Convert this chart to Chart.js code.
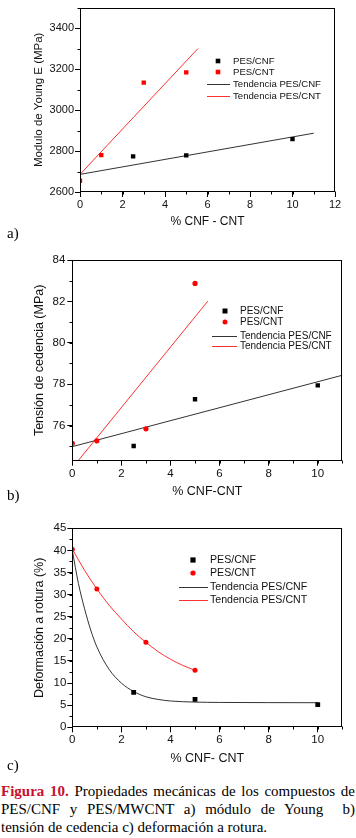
<!DOCTYPE html>
<html>
<head>
<meta charset="utf-8">
<script src="https://cdn.jsdelivr.net/npm/chart.js@4/dist/chart.umd.min.js"></script>
<style>
  html, body { margin: 0; padding: 0; background: #fff; }
  body { position: relative; width: 356px; height: 838px; overflow: hidden; }
  canvas { position: absolute; left: 0; }
  .tag { position: absolute; left: 7px; font: 15px/18px "Liberation Serif", "Times New Roman", serif; color: #000; }
  #cap { position: absolute; left: 1px; top: 782px; width: 354px; font: 15px/18.2px "Liberation Serif", "Times New Roman", serif; color: #000; }
  #cap .j { text-align: justify; text-align-last: justify; white-space: nowrap; }
  #cap .fig { color: #c8102e; font-weight: bold; }
</style>
</head>
<body>
<canvas id="chartA" width="356" height="240" style="top:0"></canvas>
<canvas id="chartB" width="356" height="255" style="top:250px"></canvas>
<canvas id="chartC" width="356" height="260" style="top:515px"></canvas>
<div class="tag" style="top:224px">a)</div>
<div class="tag" style="top:486px">b)</div>
<div class="tag" style="top:756px">c)</div>
<div id="cap">
  <div class="j"><span class="fig">Figura 10.</span> Propiedades mecánicas de los compuestos de</div>
  <div class="j">PES/CNF y PES/MWCNT a) módulo de Young&nbsp; b)</div>
  <div>tensión de cedencia c) deformación a rotura.</div>
</div>
<script>
const legendLabels = ['PES/CNF', 'PES/CNT', 'Tendencia PES/CNF', 'Tendencia PES/CNT'];

// a) módulo de Young (MPa)
const youngCnfX = [2.5, 5, 10];
const youngCnfY = [2774, 2779, 2858];
const youngCntX = [0, 1, 3, 5];
const youngCntY = [2655, 2780, 3134, 3184];
const youngTrendCnfX = [0, 11];
const youngTrendCnfY = [2686, 2887];
const youngTrendCntX = [0, 5.55];
const youngTrendCntY = [2686, 3300];

// b) tensión de cedencia (MPa)
const yieldCnfX = [2.5, 5, 10];
const yieldCnfY = [75.01, 77.27, 77.94];
const yieldCntX = [0, 1, 3, 5];
const yieldCntY = [75.14, 75.26, 75.84, 82.87];
const yieldTrendCnfX = [0, 11];
const yieldTrendCnfY = [74.98, 78.43];
const yieldTrendCntX = [0.24, 5.52];
const yieldTrendCntY = [74.3, 82.01];

// c) deformación a rotura (%)
const strainCnfX = [2.5, 5, 10];
const strainCnfY = [7.91, 6.33, 5.12];
const strainCntX = [0, 1, 3, 5];
const strainCntY = [40.25, 31.27, 19.22, 12.89];
const strainTrendCnfX = [0, 0.25, 0.5, 0.75, 1, 1.5, 2, 2.5, 3, 3.5, 4, 5, 6, 8, 10];
const strainTrendCnfY = [40, 32.5, 26.8, 22, 18.2, 13.1, 10, 8.1, 6.9, 6.3, 5.95, 5.7, 5.62, 5.58, 5.56];
const strainTrendCntX = [0, 0.5, 1, 1.5, 2, 2.5, 3, 3.5, 4, 4.5, 5];
const strainTrendCntY = [40.3, 35.5, 31.3, 27.6, 24.5, 21.6, 19.2, 17.1, 15.4, 14, 12.9];

const FONT = '"Liberation Sans", Arial, Helvetica, sans-serif';
const TEXT = '#111';
const BLACK_LINE = '#333';
const RED_LINE = '#ff3030';

const pts = (xs, ys) => xs.map((x, i) => ({ x, y: ys[i] }));

const markers = (label, xs, ys, color, style, r) => ({
  label, data: pts(xs, ys), showLine: false,
  pointStyle: style, pointRadius: r, pointBackgroundColor: color, pointBorderWidth: 0,
  legendColor: color,
});

const trend = (label, xs, ys, color) => ({
  label, data: pts(xs, ys), showLine: true,
  borderColor: color, borderWidth: 1, pointRadius: 0,
  cubicInterpolationMode: xs.length > 2 ? 'monotone' : 'default',
  legendColor: color,
});

/** Box around the plot plus short outward minor ticks. */
const framePlugin = {
  id: 'frame',
  afterDraw: (chart) => {
    const { ctx, chartArea: a, scales } = chart;
    const o = chart.options.plugins.frame;
    const L = Math.round(a.left) + 0.5, R = Math.round(a.right) - 0.5;
    const T = Math.round(a.top) + 0.5, B = Math.round(a.bottom) - 0.5;
    ctx.save();
    ctx.strokeStyle = '#000';
    ctx.lineWidth = 1;
    ctx.strokeRect(L, T, R - L, B - T);
    ctx.beginPath();
    const x = scales.x, y = scales.y;
    for (let v = x.min; v <= x.max + 1e-9; v += o.xMinor) {
      const px = Math.round(x.getPixelForValue(v)) + 0.5;
      ctx.moveTo(px, B); ctx.lineTo(px, B + 3);
    }
    for (let v = y.min - (y.min % o.yMinor); v <= y.max + 1e-9; v += o.yMinor) {
      if (v < y.min - 1e-9) continue;
      const py = Math.round(y.getPixelForValue(v)) + 0.5;
      ctx.moveTo(L, py); ctx.lineTo(L - 3, py);
    }
    ctx.stroke();
    ctx.restore();
  },
};

/** Legend drawn inside the plot at fixed spots. */
const legendPlugin = {
  id: 'sideLegend',
  afterDraw: (chart) => {
    const o = chart.options.plugins.sideLegend;
    const { ctx } = chart;
    ctx.save();
    ctx.font = `${o.size}px ${FONT}`;
    ctx.textBaseline = 'middle';
    chart.data.datasets.forEach((ds, i) => {
      const y = o.rows[i];
      const color = ds.legendColor;
      if (ds.showLine) {
        ctx.fillStyle = color;
        ctx.fillRect(o.lineX[0], Math.round(y), o.lineX[1] - o.lineX[0], 1);
      } else {
        ctx.fillStyle = color;
        const r = o.markR;
        if (ds.pointStyle === 'circle') {
          ctx.beginPath(); ctx.arc(o.markX, y, r, 0, Math.PI * 2); ctx.fill();
        } else {
          ctx.fillRect(o.markX - r, y - r, 2 * r, 2 * r);
        }
      }
      ctx.fillStyle = TEXT;
      ctx.fillText(ds.label, o.textX, y);
    });
    ctx.restore();
  },
};

const makeChart = (id, c) => new Chart(document.getElementById(id), {
  type: 'scatter',
  data: { datasets: c.datasets },
  plugins: [framePlugin, legendPlugin],
  options: {
    responsive: false,
    animation: false,
    events: [],
    layout: { padding: c.padding },
    plugins: {
      legend: { display: false },
      tooltip: { enabled: false },
      frame: c.frame,
      sideLegend: c.legend,
    },
    scales: {
      x: {
        type: 'linear', min: c.x.min, max: c.x.max,
        ticks: { stepSize: c.x.step, includeBounds: false, padding: c.x.tickPad, maxRotation: 0, color: TEXT,
          font: { family: FONT, size: c.tickSize }, callback: (v) => String(v) },
        grid: { drawOnChartArea: false, tickLength: 5, color: '#000', tickColor: '#000' },
        border: { display: false },
        title: { display: true, text: c.x.title, color: TEXT, font: { family: FONT, size: c.titleSize },
          padding: { top: 0, bottom: c.x.titlePad } },
        afterFit: (s) => { s.height = c.x.height; },
      },
      y: {
        type: 'linear', min: c.y.min, max: c.y.max,
        ticks: { stepSize: c.y.step, includeBounds: false, padding: c.y.tickPad, color: TEXT,
          font: { family: FONT, size: c.tickSize }, callback: (v) => String(v) },
        grid: { drawOnChartArea: false, tickLength: 5, color: '#000', tickColor: '#000' },
        border: { display: false },
        title: { display: true, text: c.y.title, color: TEXT, font: { family: FONT, size: c.yTitleSize || c.titleSize },
          padding: { top: c.y.titlePad, bottom: 0 } },
        afterFit: (s) => { s.width = c.y.width; },
      },
    },
  },
});

makeChart('chartA', {
  datasets: [
    markers(legendLabels[0], youngCnfX, youngCnfY, '#000', 'rect', 3.1),
    markers(legendLabels[1], youngCntX, youngCntY, '#f00', 'rect', 3.1),
    trend(legendLabels[2], youngTrendCnfX, youngTrendCnfY, BLACK_LINE),
    trend(legendLabels[3], youngTrendCntX, youngTrendCntY, RED_LINE),
  ],
  padding: { top: 5, right: 21, bottom: 0, left: 0 },
  tickSize: 11, titleSize: 12, yTitleSize: 11.5,
  x: { min: 0, max: 12, step: 2, tickPad: 1, title: '% CNF - CNT', titlePad: 10.8, height: 48 },
  y: { min: 2600, max: 3500, step: 200, tickPad: 1, title: 'Modulo de Young E (MPa)', titlePad: 32, width: 80 },
  frame: { xMinor: 1, yMinor: 100 },
  legend: { size: 9.6, markX: 218, markR: 2.3, textX: 233, lineX: [207, 230], rows: [61, 72, 84, 96] },
});

makeChart('chartB', {
  datasets: [
    markers(legendLabels[0], yieldCnfX, yieldCnfY, '#000', 'rect', 3.1),
    markers(legendLabels[1], yieldCntX, yieldCntY, '#f00', 'circle', 2.6),
    trend(legendLabels[2], yieldTrendCnfX, yieldTrendCnfY, BLACK_LINE),
    trend(legendLabels[3], yieldTrendCntX, yieldTrendCntY, RED_LINE),
  ],
  padding: { top: 10, right: 13.7, bottom: 0, left: 0 },
  tickSize: 11.5, titleSize: 12.5,
  x: { min: 0, max: 11, step: 2, tickPad: 1, title: '% CNF-CNT', titlePad: 5.8, height: 44.3 },
  y: { min: 74.3, max: 84, step: 2, tickPad: 2, title: 'Tensión de cedencia (MPa)', titlePad: 32.5, width: 72.3 },
  frame: { xMinor: 1, yMinor: 1 },
  legend: { size: 10, markX: 225, markR: 2.5, textX: 240, lineX: [212, 237], rows: [61, 72, 86, 96] },
});

makeChart('chartC', {
  datasets: [
    markers(legendLabels[0], strainCnfX, strainCnfY, '#000', 'rect', 3.4),
    markers(legendLabels[1], strainCntX, strainCntY, '#f00', 'circle', 2.5),
    trend(legendLabels[2], strainTrendCnfX, strainTrendCnfY, BLACK_LINE),
    trend(legendLabels[3], strainTrendCntX, strainTrendCntY, RED_LINE),
  ],
  padding: { top: 13.3, right: 13.7, bottom: 0, left: 0 },
  tickSize: 11.5, titleSize: 12.5,
  x: { min: 0, max: 11, step: 2, tickPad: 1, title: '% CNF- CNT', titlePad: 9.2, height: 47.7 },
  y: { min: 0, max: 45, step: 5, tickPad: 1, title: 'Deformación a rotura (%)', titlePad: 32.5, width: 72.3 },
  frame: { xMinor: 1, yMinor: 2.5 },
  legend: { size: 10.6, markX: 193, markR: 2.6, textX: 210, lineX: [179, 208], rows: [45, 58, 72, 85] },
});
</script>
</body>
</html>
